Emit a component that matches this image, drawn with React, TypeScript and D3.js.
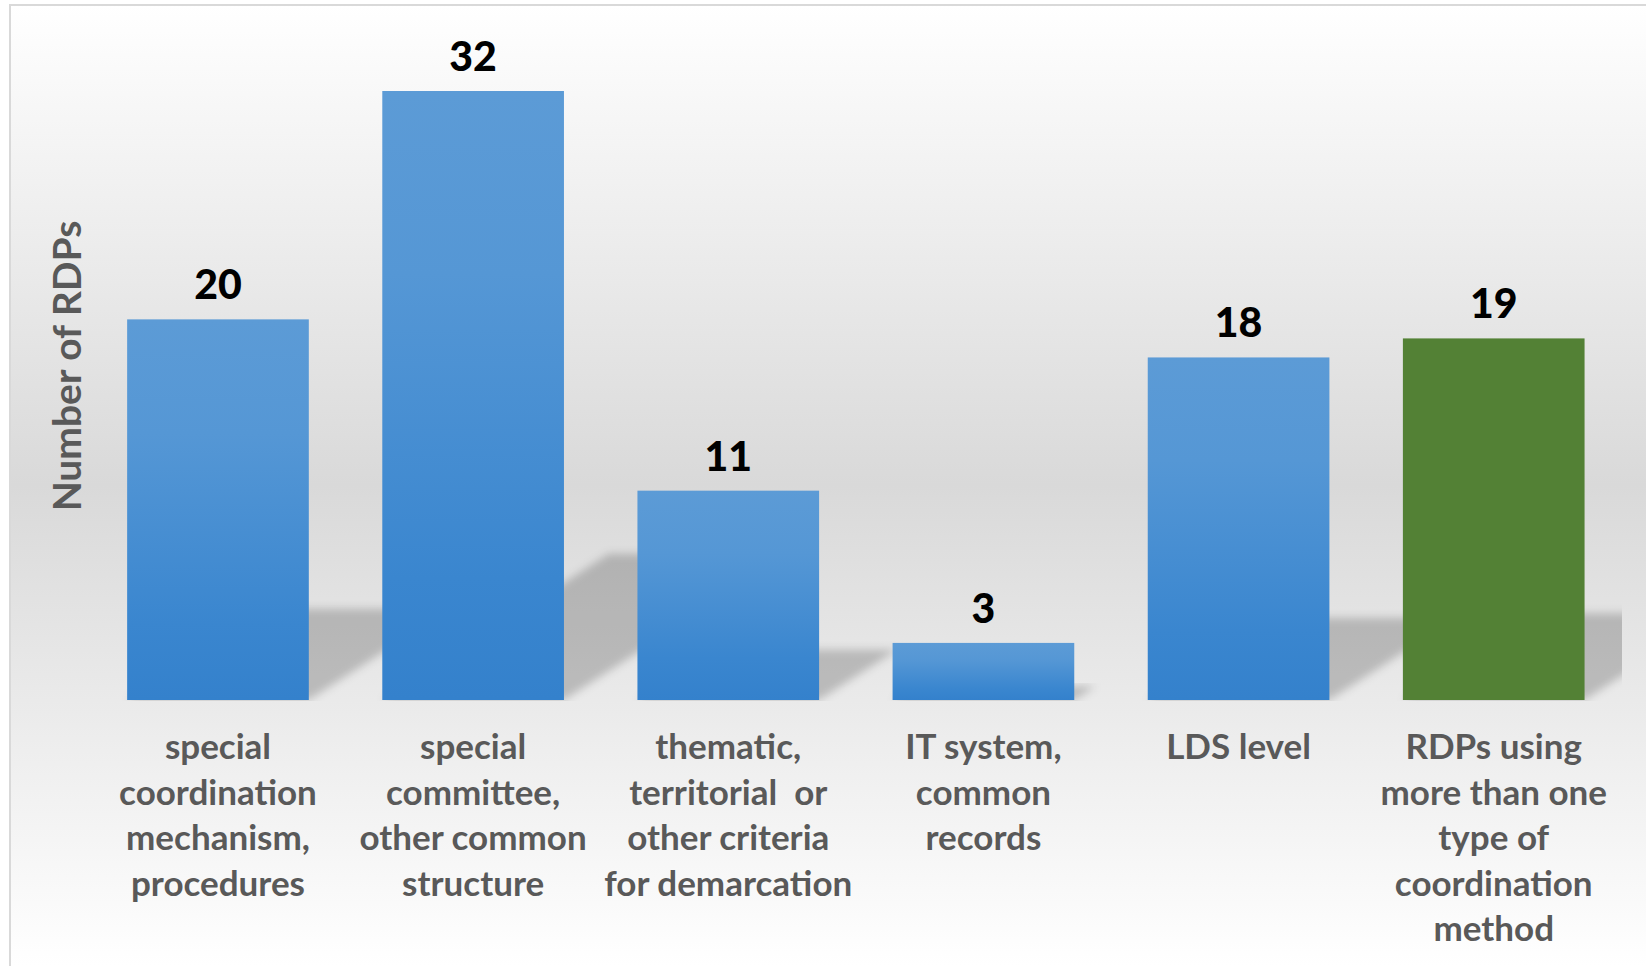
import React from 'react';
import * as d3 from 'd3';

const categoryLines: string[][] = [
  ['special', 'coordination', 'mechanism,', 'procedures'],
  ['special', 'committee,', 'other common', 'structure'],
  ['thematic,', 'territorial  or', 'other criteria', 'for demarcation'],
  ['IT system,', 'common', 'records'],
  ['LDS level'],
  ['RDPs using', 'more than one', 'type of', 'coordination', 'method'],
];
const values = [20, 32, 11, 3, 18, 19];
const highlighted = [false, false, false, false, false, true];
const yAxisTitle = 'Number of RDPs';

const W = 1646;
const H = 966;
const BASE = 700;

export default function App() {
  const idx = values.map((_, i) => String(i));
  const x = d3.scaleBand<string>().domain(idx).range([90.4, 1621.3]).paddingInner(0.288).paddingOuter(0.144);
  const y = d3.scaleLinear().domain([0, 32]).range([BASE, 91]);
  const bw = x.bandwidth();
  const k = 1.55;

  return (
    <svg width={W} height={H} style={{ position: 'absolute', left: 0, top: 0 }}>
      <defs>
        <linearGradient id="bg" gradientUnits="userSpaceOnUse" x1="0" y1="5" x2="0" y2={H}>
          <stop offset="0" stopColor="#ffffff" />
          <stop offset="0.5" stopColor="#d9d9d9" />
          <stop offset="1" stopColor="#ffffff" />
        </linearGradient>
        <linearGradient id="barBlue" x1="0" y1="0" x2="0" y2="1">
          <stop offset="0" stopColor="#5c9bd6" />
          <stop offset="0.3" stopColor="#5597d5" />
          <stop offset="0.8" stopColor="#3a86cf" />
          <stop offset="1" stopColor="#3481cc" />
        </linearGradient>
        <filter id="blur" x="-20%" y="-20%" width="140%" height="140%">
          <feGaussianBlur stdDeviation="4" />
        </filter>
        <clipPath id="plotClip">
          <rect x={10} y={5} width={1612} height={BASE - 4} />
        </clipPath>
      </defs>
      <rect x={0} y={0} width={W} height={H} fill="#ffffff" />
      <rect x={10} y={5} width={W} height={H} fill="url(#bg)" stroke="#d9d9d9" strokeWidth={2} />

      <g clipPath="url(#plotClip)">
        {values.map((v, i) => {
          const x0 = x(String(i))!;
          const x1 = x0 + bw;
          const h = BASE - y(v);
          const sh = 0.24 * h;
          const pts = [
            [x0, BASE],
            [x1, BASE],
            [x1 + k * sh, BASE - sh],
            [x0 + k * sh, BASE - sh],
          ];
          return (
            <polygon key={i} points={pts.map((p) => p.join(',')).join(' ')} fill="#000" fillOpacity={0.2} filter="url(#blur)" />
          );
        })}
      </g>

      {values.map((v, i) => (
        <rect
          key={i}
          x={x(String(i))}
          y={y(v)}
          width={bw}
          height={BASE - y(v)}
          fill={highlighted[i] ? '#538135' : 'url(#barBlue)'}
        />
      ))}

      {values.map((v, i) => (
        <text
          key={i}
          x={x(String(i))! + bw / 2}
          y={y(v) - 20}
          textAnchor="middle"
          fontFamily="Lato, sans-serif"
          fontWeight={900}
          fontSize={41}
          fill="#000"
        >
          {v}
        </text>
      ))}

      {categoryLines.map((lines, i) => (
        <text
          key={i}
          x={x(String(i))! + bw / 2}
          y={759}
          textAnchor="middle"
          fontFamily="Lato, sans-serif"
          fontWeight={700}
          fontSize={35}
          fill="#595959"
        >
          {lines.map((l, j) => (
            <tspan key={j} x={x(String(i))! + bw / 2} y={759 + j * 45.5} style={{ whiteSpace: 'pre' }}>
              {l}
            </tspan>
          ))}
        </text>
      ))}

      <text
        transform={`translate(81,366) rotate(-90)`}
        textAnchor="middle"
        fontFamily="Lato, sans-serif"
        fontWeight={700}
        fontSize={39}
        fill="#595959"
      >
        {yAxisTitle}
      </text>
    </svg>
  );
}
